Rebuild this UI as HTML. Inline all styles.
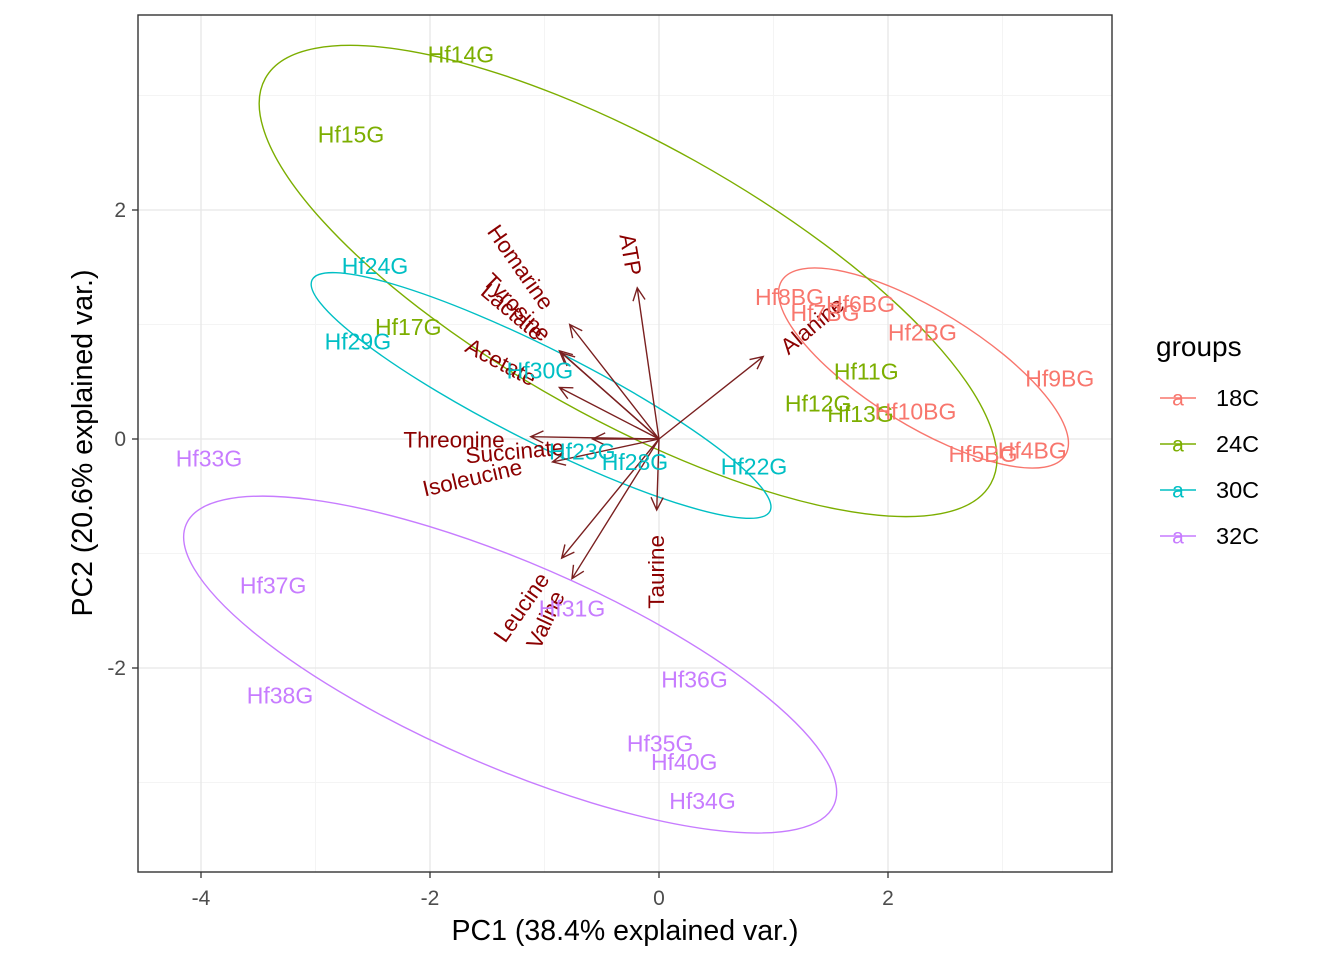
<!DOCTYPE html>
<html><head><meta charset="utf-8"><style>
body{margin:0;background:#fff;}
svg text{font-family:"Liberation Sans",Arial,sans-serif;}
</style></head><body>
<svg id="chart" width="1344" height="960" xmlns="http://www.w3.org/2000/svg">
<rect width="1344" height="960" fill="#fff"/>
<g id="grid"></g><g id="ellipses"></g><g id="arrows"></g><g id="points"></g><g id="axes"></g><g id="legend"></g>
</svg>
<script>
const xTicks=[-4,-2,0,2];
const yTicks=[-2,0,2];
const xMinor=[-3,-1,1,3];
const yMinor=[-3,-1,1,3];
const groups=['18C','24C','30C','32C'];
const groupColors=['#F8766D','#7CAE00','#00BFC4','#C77CFF'];
const sampleNames=['Hf14G','Hf15G','Hf24G','Hf17G','Hf29G','Hf30G','Hf33G','Hf23G','Hf28G','Hf22G','Hf37G','Hf31G','Hf38G','Hf36G','Hf35G','Hf40G','Hf34G','Hf8BG','Hf7BG','Hf6BG','Hf2BG','Hf11G','Hf9BG','Hf12G','Hf13G','Hf10BG','Hf5BG','Hf4BG'];
const sampleGroup=[1,1,2,1,2,2,3,2,2,2,3,3,3,3,3,3,3,0,0,0,0,1,0,1,1,0,0,0];
const pc1=[-1.73,-2.69,-2.48,-2.19,-2.63,-1.04,-3.93,-0.67,-0.21,0.83,-3.37,-0.76,-3.31,0.31,0.01,0.22,0.38,1.14,1.45,1.76,2.30,1.81,3.50,1.39,1.76,2.24,2.83,3.26];
const pc2=[3.36,2.66,1.51,0.98,0.85,0.60,-0.17,-0.11,-0.20,-0.24,-1.28,-1.48,-2.24,-2.10,-2.66,-2.82,-3.16,1.24,1.10,1.18,0.93,0.59,0.53,0.31,0.22,0.24,-0.13,-0.10];
const varNames=['ATP','Homarine','Tyrosine','Lactate','Acetate','Threonine','Succinate','Isoleucine','Leucine','Valine','Taurine','Alanine'];
const varX=[-0.19,-0.78,-0.87,-0.85,-0.87,-1.12,-0.58,-0.93,-0.85,-0.76,-0.02,0.91];
const varY=[1.32,1.00,0.77,0.75,0.45,0.02,0.00,-0.20,-1.04,-1.22,-0.62,0.72];
const varLabX=[-0.25,-1.21,-1.24,-1.28,-1.38,-1.79,-1.26,-1.63,-1.20,-0.99,-0.02,1.34];
const varLabY=[1.61,1.50,1.15,1.11,0.67,-0.01,-0.11,-0.34,-1.47,-1.58,-1.16,0.99];
const varAngle=[80,55,45,40,28,0,-5,-13,-55,-65,-90,-40];
const ellCX=[2.31,-0.27,-1.03,-1.30];
const ellCY=[0.62,1.38,0.38,-1.97];
const ellA=[1.454,3.629,2.240,3.083];
const ellB=[0.502,1.201,0.406,0.888];
const ellAng=[31.6,29.2,26.8,23.4];

const L=138,R=1112,T=15,B=872,S=114.5;
const sx=v=>659+S*v, sy=v=>439-S*v;
const NS='http://www.w3.org/2000/svg';
function mk(parent,tag,attrs,text){const e=document.createElementNS(NS,tag);for(const k in attrs)e.setAttribute(k,attrs[k]);if(text!==undefined)e.textContent=text;document.getElementById(parent).appendChild(e);return e;}

// grid
xMinor.forEach(v=>{const e=mk('grid','line',{x1:sx(v),x2:sx(v),y1:T,y2:B,stroke:'#f4f4f4','stroke-width':1});

});
yMinor.forEach(v=>{const e=mk('grid','line',{x1:L,x2:R,y1:sy(v),y2:sy(v),stroke:'#f4f4f4','stroke-width':1});

});
xTicks.forEach(v=>{const e=mk('grid','line',{x1:sx(v),x2:sx(v),y1:T,y2:B,stroke:'#e6e6e6','stroke-width':1.3});

});
yTicks.forEach(v=>{const e=mk('grid','line',{x1:L,x2:R,y1:sy(v),y2:sy(v),stroke:'#e6e6e6','stroke-width':1.3});

});

// ellipses
groups.forEach((g,i)=>{const e=mk('ellipses','ellipse',{cx:sx(ellCX[i]),cy:sy(ellCY[i]),rx:ellA[i]*S,ry:ellB[i]*S,fill:'none',stroke:groupColors[i],'stroke-width':1.4,transform:`rotate(${ellAng[i]} ${sx(ellCX[i])} ${sy(ellCY[i])})`});

});

// arrows
varNames.forEach((n,i)=>{
 const x1=sx(0),y1=sy(0),x2=sx(varX[i]),y2=sy(varY[i]);
 const a=Math.atan2(y2-y1,x2-x1),h=14,w=0.45;
 const d=`M${x1},${y1}L${x2},${y2}M${x2-h*Math.cos(a-w)},${y2-h*Math.sin(a-w)}L${x2},${y2}L${x2-h*Math.cos(a+w)},${y2-h*Math.sin(a+w)}`;
 const p=mk('arrows','path',{d:d,stroke:'#7a2020',fill:'none','stroke-width':1.4});
 
 
 const lx=sx(varLabX[i]),ly=sy(varLabY[i]);
 const t=mk('arrows','text',{x:lx,y:ly,fill:'#8B0000','font-size':22.5,'text-anchor':'middle','dominant-baseline':'central',transform:`rotate(${varAngle[i]} ${lx} ${ly})`},n);
 
 
});

// points (labels)
sampleNames.forEach((n,i)=>{
 const t=mk('points','text',{x:sx(pc1[i]),y:sy(pc2[i]),fill:groupColors[sampleGroup[i]],'font-size':23,'text-anchor':'middle','dominant-baseline':'central'},n);
 
 
});

// axes
{const e=mk('axes','rect',{x:L,y:T,width:R-L,height:B-T,fill:'none',stroke:'#333','stroke-width':1.4});

}
xTicks.forEach(v=>{mk('axes','line',{x1:sx(v),x2:sx(v),y1:B,y2:B+6,stroke:'#333','stroke-width':1.3});
 const t=mk('axes','text',{x:sx(v),y:905,'font-size':21,fill:'#4d4d4d','text-anchor':'middle'},String(v));
 
 });
yTicks.forEach(v=>{mk('axes','line',{x1:L-6,x2:L,y1:sy(v),y2:sy(v),stroke:'#333','stroke-width':1.3});
 const t=mk('axes','text',{x:126,y:sy(v)+7,'font-size':21,fill:'#4d4d4d','text-anchor':'end'},String(v));
 
 });
{const t=mk('axes','text',{x:625,y:940,'font-size':28.5,fill:'#000','text-anchor':'middle'},'PC1 (38.4% explained var.)');


const t2=mk('axes','text',{x:92,y:443,'font-size':28.5,fill:'#000','text-anchor':'middle',transform:'rotate(-90 92 443)'},'PC2 (20.6% explained var.)');

}

// legend
{const t=mk('legend','text',{x:1156,y:356,'font-size':28,fill:'#000'},'groups');

}
groups.forEach((g,i)=>{const y=398+46*i;
 const l=mk('legend','line',{x1:1160,x2:1196,y1:y,y2:y,stroke:groupColors[i],'stroke-width':1.4});
 
 
 mk('legend','text',{x:1178,y:y+1,'font-size':21,fill:groupColors[i],'text-anchor':'middle','dominant-baseline':'central'},'a');
 const t=mk('legend','text',{x:1216,y:y+8,'font-size':23.5,fill:'#000'},g);
 
 });
</script>
</body></html>
